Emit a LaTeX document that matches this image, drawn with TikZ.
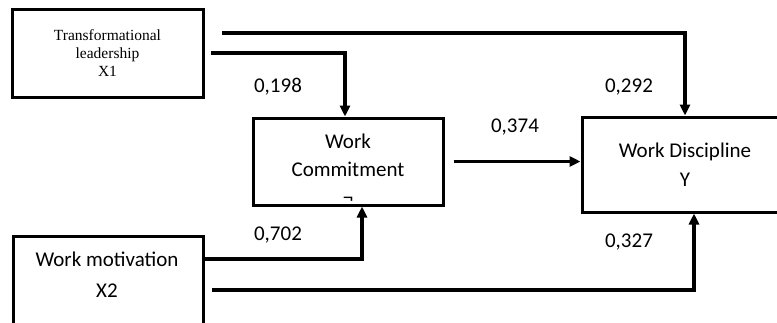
\documentclass[tikz,border=0pt]{standalone}
\usepackage{fontspec}
\setmainfont{Carlito}
\newfontfamily\timesfont{Liberation Serif}
\usetikzlibrary{arrows.meta}

\begin{document}
\begin{tikzpicture}[
  x=1pt,y=-1pt,
  box/.style={draw,line width=3pt,align=center,inner sep=0pt},
  arrow/.style={-{Triangle[length=11pt,width=10pt]},line width=3.4pt},
  lab/.style={align=center,font=\fontsize{21}{29}\selectfont},
  coef/.style={font=\fontsize{21}{25}\selectfont}
]
\useasboundingbox (0,0) rectangle (777,322);
\clip (0,0) rectangle (777,322);
% boxes
\node[box,minimum width=191,minimum height=88,font=\timesfont\fontsize{15.5}{18}\selectfont] (x1) at (107.5,53) {Transformational\\leadership\\X1};
\node[box,minimum width=190,minimum height=87] (wc) at (348,161.5) {};
\node[lab,align=center,font=\fontsize{21}{28}\selectfont] (wctext) at (348,169) {Work\\Commitment\\¬};
\node[box,lab,minimum width=206,minimum height=95] (y) at (685,164.5) {Work Discipline\\Y};
\node[box,minimum width=190,minimum height=90] (x2) at (108,281) {};
\node[lab,font=\fontsize{21}{31}\selectfont] (x2text) at (107,275) {Work motivation\\X2};
% free ends of the paths
\coordinate (x1top) at (222,33);
\coordinate (x1low) at (211,53);
\coordinate (x2top) at (203,259);
\coordinate (x2low) at (212,290);
% paths
\draw[arrow] (x1top) -| (y.north);
\draw[arrow] (x1low) -| ([xshift=-3pt]wc.north);
\draw[arrow] ([xshift=9pt]wc.east) -- (y.west |- wc.east);
\draw[arrow] (x2top) -| ([xshift=14pt]wc.south);
\draw[arrow] (x2low) -| ([xshift=9pt]y.south);
% coefficients
\node[coef] (c198) at (278,87) {0,198};
\node[coef] (c292) at (629,87) {0,292};
\node[coef] (c374) at (515,127) {0,374};
\node[coef] (c702) at (278,235) {0,702};
\node[coef] (c327) at (629,242) {0,327};
\end{tikzpicture}
\end{document}
